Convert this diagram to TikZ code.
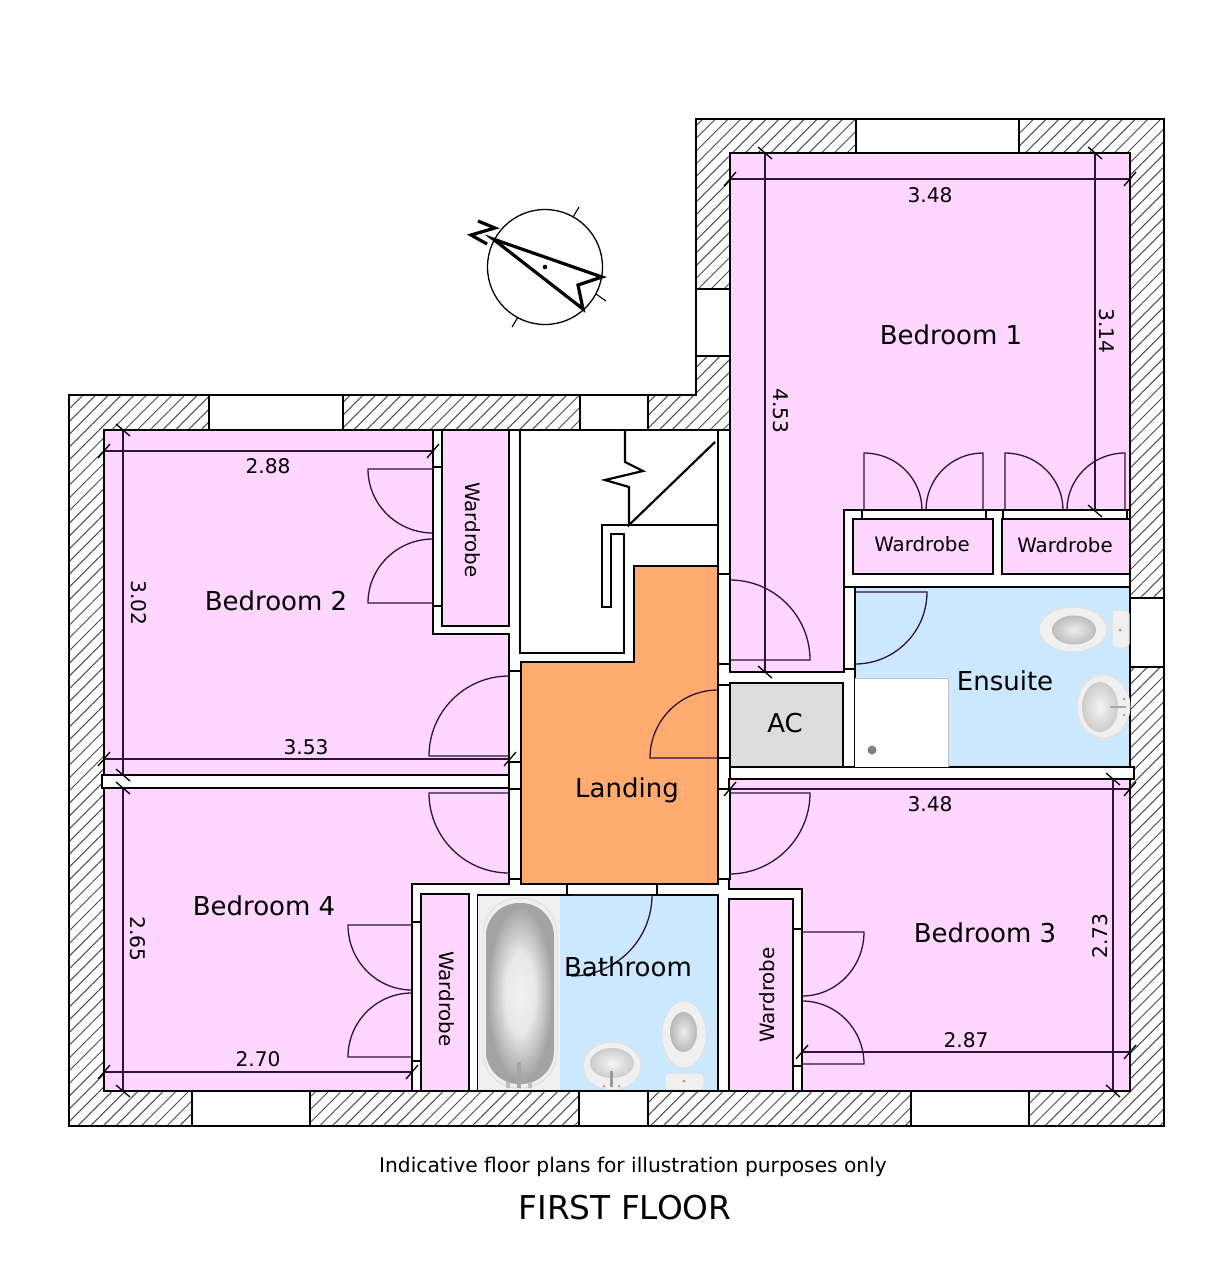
\documentclass[tikz,border=0pt]{standalone}
\usepackage{fontspec}
\setmainfont{DejaVu Sans}
\usetikzlibrary{calc,patterns.meta}
\definecolor{bedpink}{RGB}{255,214,255}
\definecolor{wetblue}{RGB}{204,232,255}
\definecolor{landorange}{RGB}{255,170,110}
\definecolor{acgrey}{RGB}{221,221,221}
\definecolor{dimcol}{RGB}{45,20,55}
\pgfdeclareradialshading{tubglow}{\pgfpoint{0bp}{0bp}}{color(0bp)=(black!5);color(11bp)=(black!9);color(24bp)=(black!36);color(50bp)=(black!36)}
\tikzstyle{wall} = [draw=black, line width=2.6pt, pattern={Lines[angle=45,distance=9pt,line width=1pt]}, pattern color=black!70]
\tikzstyle{inside} = [draw=black, line width=2.8pt, fill=white]
\tikzstyle{window} = [draw=black, line width=1.8pt, fill=white]
\tikzstyle{room} = [draw=black, line width=2.8pt, fill=bedpink]
\tikzstyle{wetroom} = [draw=black, line width=2.8pt, fill=wetblue]
\tikzstyle{opening} = [draw=black, line width=1.1pt, fill=white]
\tikzstyle{gapedge} = [draw=black, line width=2.6pt]
\tikzstyle{stairline} = [draw=black, line width=2.2pt]
\tikzstyle{doorline} = [draw=dimcol, line width=1.3pt]
\tikzstyle{dimline} = [draw=dimcol, line width=1.1pt]
\tikzstyle{ticks} = [draw=black, line width=1.3pt]
\tikzstyle{china} = [draw=black!12, line width=1pt, fill=black!6]
\tikzstyle{roomlabel} = [font=\fontsize{26}{30}\selectfont, inner sep=0pt]
\tikzstyle{wardlabel} = [font=\fontsize{19.8}{23}\selectfont, inner sep=0pt]
\tikzstyle{dimlabel} = [font=\fontsize{20.2}{23}\selectfont, inner sep=0pt]
\newcommand{\doorarc}[3]{\draw[doorline] (#1) -- (#2) .. controls ($(#2)+0.5523*(#3)-0.5523*(#1)$) and ($(#3)+0.5523*(#2)-0.5523*(#1)$) .. (#3);}
\newcommand{\dimh}[3]{\draw[dimline] (#1,#3) -- (#2,#3);
  \draw[ticks] (#1-6,#3+7) -- (#1+6,#3-7) (#2-6,#3+7) -- (#2+6,#3-7);}
\newcommand{\dimv}[3]{\draw[dimline] (#3,#1) -- (#3,#2);
  \draw[ticks] (#3-7,#1-6) -- (#3+7,#1+6) (#3-7,#2-6) -- (#3+7,#2+6);}
\newcommand{\gapv}[4]{\draw[opening] (#1,#2) rectangle (#3,#4);
  \draw[gapedge] (#1,#2) -- (#1,#4) (#3,#2) -- (#3,#4);}
\newcommand{\gaph}[4]{\draw[opening] (#1,#2) rectangle (#3,#4);
  \draw[gapedge] (#1,#2) -- (#3,#2) (#1,#4) -- (#3,#4);}
\begin{document}
\begin{tikzpicture}[x=1pt,y=-1pt]
    \useasboundingbox (0,0) rectangle (1206,1280);
    % shell
    \draw[wall] (69,395) -- (696,395) -- (696,119) -- (1164,119) -- (1164,1126) -- (69,1126) -- cycle;
    \draw[inside] (104,430) -- (730,430) -- (730,153) -- (1130,153) -- (1130,1091) -- (104,1091) -- cycle;
    \draw[window] (856,119) rectangle (1019,153);
    \draw[window] (696,289) rectangle (730,356);
    \draw[window] (1130,598) rectangle (1164,667);
    \draw[window] (209,395) rectangle (343,430);
    \draw[window] (580,395) rectangle (648,430);
    \draw[window] (192,1091) rectangle (310,1126);
    \draw[window] (579,1091) rectangle (648,1126);
    \draw[window] (911,1091) rectangle (1029,1126);
    % rooms
    \draw[room] (730,153) -- (1130,153) -- (1130,510) -- (844,510) -- (844,672) -- (730,672) -- cycle;
    \draw[room] (853,519) rectangle (993,574);
    \draw[room] (1002,519) rectangle (1130,574);
    \draw[room] (104,430) -- (433,430) -- (433,634) -- (509,634) -- (509,775) -- (104,775) -- cycle;
    \draw[room] (442,430) rectangle (509,626);
    \draw[room] (104,788) -- (509,788) -- (509,884) -- (412,884) -- (412,1091) -- (104,1091) -- cycle;
    \draw[room] (421,894) rectangle (469,1091);
    \draw[room] (729,779) -- (1130,779) -- (1130,1091) -- (802,1091) -- (802,889) -- (729,889) -- cycle;
    \draw[room] (729,899) rectangle (793,1091);
    \draw[wetroom] (855,587) rectangle (1130,767);
    \draw[wetroom] (478,895) rectangle (718,1091);
    \draw[room, fill=acgrey] (730,683) rectangle (843,767);
    \draw[room, fill=landorange] (634,566) -- (718,566) -- (718,884) -- (521,884) -- (521,662) -- (634,662) -- cycle;
    \draw[window, line width=2.4pt] (102,775) rectangle (509,788);
    \draw[window, line width=2.4pt] (730,767) rectangle (1134,779);
    % stairs
    \draw[stairline] (520,430) -- (520,653) -- (624,653) -- (624,534) -- (611,534) -- (611,607) -- (602,607) -- (602,525) -- (632,525);
    \draw[stairline] (625,430) -- (625,462) -- (643,471) -- (605,480) -- (629,487) -- (629,525) -- (715,442);
    \draw[stairline] (632,525) -- (718,525);
    \draw[stairline] (718,430) -- (718,884);
    % door gaps in the walls
    \gapv{433}{467}{442}{606}
    \gapv{412}{922}{421}{1061}
    \gapv{793}{929}{802}{1066}
    \gaph{862}{510}{986}{519}
    \gaph{1003}{510}{1127}{519}
    \gapv{844}{587}{855}{669}
    \gapv{509}{671}{521}{762}
    \gapv{509}{789}{521}{879}
    \gapv{718}{574}{730}{664}
    \gapv{718}{685}{730}{758}
    \gapv{718}{789}{730}{879}
    \gaph{567}{884}{657}{895}
    % fittings
    \fill[black!6] (478,896) rectangle (560,1090);
    \draw[china, rounded corners=36pt] (483,898) rectangle (557,1088);
    \shade[shading=tubglow, rounded corners=33pt] (486,903) rectangle (554,1084);
    \fill[black!35] (517,1062) rectangle (521,1088);
    \fill[black!25] (506,1082) rectangle (510,1088) (528,1082) rectangle (532,1088);
    \fill[white] (855,678) rectangle (948,767);
    \draw[black!25, line width=1pt] (855,678) -- (948,678) -- (948,767);
    \fill[black!50] (872,750) circle (4.5);
    \draw[china] (1073,629.5) ellipse (34 and 22.5);
    \shade[inner color=black!7, outer color=black!26] (1074,630) ellipse (22 and 14.5);
    \draw[china, rounded corners=4pt] (1112,610) rectangle (1129,648);
    \fill[black!40] (1120,630) circle (1.5);
    \draw[china] (1103.5,706.5) ellipse (26.5 and 31.5);
    \shade[inner color=black!4, outer color=black!20] (1100,707) ellipse (18 and 25);
    \draw[black!35, line width=1.5pt] (1110,707) -- (1126,707);
    \fill[black!35] (1124,699) circle (1.5) (1124,715) circle (1.5);
    \draw[china] (612,1066) ellipse (29 and 24);
    \shade[inner color=black!4, outer color=black!20] (612,1063) ellipse (22 and 15);
    \fill[black!40] (610,1071) rectangle (613,1087);
    \fill[black!35] (604,1086) circle (1.5) (619,1086) circle (1.5);
    \draw[china] (684,1034.5) ellipse (22 and 33.5);
    \shade[inner color=black!7, outer color=black!28] (683.5,1032) ellipse (13.5 and 20);
    \draw[china, rounded corners=4pt] (665,1073) rectangle (704,1090);
    \fill[black!40] (684,1081) circle (1.5);
    \draw[draw=black, line width=2.8pt] (104,1091) -- (1130,1091);
    \draw[draw=black, line width=1.4pt] (478,895) -- (718,895);
    % doors
    \doorarc{730,660}{810,660}{730,580}
    \doorarc{855,592}{927,592}{855,664}
    \doorarc{718,758}{650,758}{718,690}
    \doorarc{509,756}{429,756}{509,676}
    \doorarc{509,793}{429,793}{509,873}
    \doorarc{729,793}{810,793}{729,874}
    \doorarc{571,895}{652,895}{571,976}
    \doorarc{864,510}{864,453}{922,510}
    \doorarc{983,510}{983,453}{926,510}
    \doorarc{1005,510}{1005,453}{1063,510}
    \doorarc{1125,510}{1125,453}{1067,510}
    \doorarc{433,469}{368,469}{433,533}
    \doorarc{433,603}{368,603}{433,539}
    \doorarc{412,925}{348,925}{412,990}
    \doorarc{412,1057}{348,1057}{412,993}
    \doorarc{802,932}{864,932}{802,996}
    \doorarc{802,1064}{864,1064}{802,1001}
    % dimensions
    \dimh{730}{1130}{179}
    \dimv{153}{672}{765}
    \dimv{153}{511}{1095}
    \dimh{104}{433}{451}
    \dimv{430}{775}{123}
    \dimh{104}{510}{759}
    \dimv{788}{1091}{123}
    \dimh{104}{412}{1072}
    \dimh{730}{1130}{789}
    \dimv{779}{1091}{1113}
    \dimh{802}{1130}{1052}
    % compass
    \draw[line width=1.3pt] (545,267) circle (57.5);
    \fill (545,267) circle (2.3);
    \draw[line width=1.1pt] (573,217) -- (579,207) (596,294) -- (606,301) (518,317) -- (512,327);
    \draw[line width=3.2pt, line join=miter] (493,239) -- (602,277) -- (578,285) -- (583,309) -- cycle;
    \draw[line width=3.2pt] (478,221) -- (495,228) -- (471,235) -- (487,244);
    % labels
    \node (bedroomone) [roomlabel] at (951,335) {Bedroom 1};
    \node (bedroomtwo) [roomlabel] at (276,601) {Bedroom 2};
    \node (bedroomthree) [roomlabel] at (985,933) {Bedroom 3};
    \node (bedroomfour) [roomlabel] at (264,906) {Bedroom 4};
    \node (ensuite) [roomlabel] at (1005,681) {Ensuite};
    \node (accupboard) [roomlabel] at (785,723) {AC};
    \node (landing) [roomlabel] at (627,790) {Landing};
    \node (bathroom) [roomlabel] at (628,967) {Bathroom};
    \node (wardrobeone) [wardlabel] at (922,544) {Wardrobe};
    \node (wardrobetwo) [wardlabel] at (1065,545) {Wardrobe};
    \node (wardrobethree) [wardlabel, rotate=-90] at (473,530) {Wardrobe};
    \node (wardrobefour) [wardlabel, rotate=-90] at (447,999) {Wardrobe};
    \node (wardrobefive) [wardlabel, rotate=90] at (767,995) {Wardrobe};
    \node (dimone) [dimlabel] at (930,195) {3.48};
    \node (dimtwo) [dimlabel, rotate=-90] at (781,411) {4.53};
    \node (dimthree) [dimlabel, rotate=-90] at (1107,331) {3.14};
    \node (dimfour) [dimlabel] at (268,466) {2.88};
    \node (dimfive) [dimlabel, rotate=-90] at (139,603) {3.02};
    \node (dimsix) [dimlabel] at (306,747) {3.53};
    \node (dimseven) [dimlabel, rotate=-90] at (138,939) {2.65};
    \node (dimeight) [dimlabel] at (258,1059) {2.70};
    \node (dimnine) [dimlabel] at (930,804) {3.48};
    \node (dimten) [dimlabel, rotate=90] at (1100,936) {2.73};
    \node (dimeleven) [dimlabel] at (966,1040) {2.87};
    \node (disclaimer) [font=\fontsize{20.2}{24}\selectfont, inner sep=0pt] at (633,1167) {Indicative floor plans for illustration purposes only};
    \node (floorname) [font=\fontsize{32.8}{38}\selectfont, inner sep=0pt] at (625,1208) {FIRST FLOOR};
\end{tikzpicture}
\end{document}
